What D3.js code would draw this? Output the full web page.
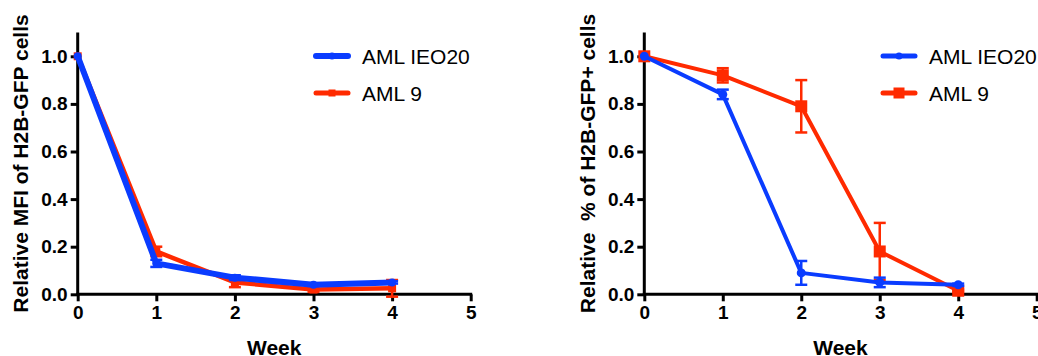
<!DOCTYPE html>
<html>
<head>
<meta charset="utf-8">
<script src="https://cdn.jsdelivr.net/npm/d3@7"></script>
<style>
  body { margin: 0; background: #fff; }
  svg { display: block; font-family: "Liberation Sans", Arial, Helvetica, sans-serif; }
</style>
</head>
<body>
<div id="chart"></div>
<script>
const weeks = [0, 1, 2, 3, 4];
const xTicks = [0, 1, 2, 3, 4, 5];
const yTicks = [0, 0.2, 0.4, 0.6, 0.8, 1.0];
const seriesNames = ["AML IEO20", "AML 9"];

// left panel: relative MFI
const mfiIEO20 = [1.0, 0.13, 0.07, 0.04, 0.05];
const mfiIEO20Err = [0, 0.015, 0.01, 0.005, 0.005];
const mfiAML9 = [1.0, 0.18, 0.05, 0.02, 0.025];
const mfiAML9Err = [0, 0.02, 0.02, 0.01, 0.035];

// right panel: relative % of GFP+ cells
const pctIEO20 = [1.0, 0.84, 0.09, 0.05, 0.04];
const pctIEO20Err = [0, 0.02, 0.05, 0.02, 0.005];
const pctAML9 = [1.0, 0.92, 0.79, 0.18, 0.015];
const pctAML9Err = [0, 0.03, 0.11, 0.12, 0.005];

const BLUE = "#0a3cff";
const RED = "#ff2a00";

const svg = d3.select("#chart").append("svg")
  .attr("width", 1038)
  .attr("height", 356);

function panel(opt) {
  const x = d3.scaleLinear().domain([0, 5]).range([opt.x0, opt.x1]);
  const y = d3.scaleLinear().domain([0, 1.1]).range([294.3, 32.5]);
  const g = svg.append("g");

  // axes
  const xa = g.append("g")
    .attr("transform", `translate(0,${y(0)})`)
    .call(d3.axisBottom(x).tickValues(xTicks).tickFormat(d3.format("d")).tickSize(7).tickSizeOuter(0).tickPadding(4));
  const ya = g.append("g")
    .attr("transform", `translate(${x(0)},0)`)
    .call(d3.axisLeft(y).tickValues(yTicks).tickFormat(d3.format(".1f")).tickSize(7).tickSizeOuter(0).tickPadding(3));
  [xa, ya].forEach(a => {
    a.select(".domain").attr("stroke", "#000").attr("stroke-width", 3);
    a.selectAll(".tick line").attr("stroke", "#000").attr("stroke-width", 3);
    a.selectAll(".tick text").attr("fill", "#000")
      .style("font-size", "19px").style("font-weight", "bold");
  });
  ya.select(".domain").attr("d", `M0,${y(0) + 1.5}V${y(1.1)}`);
  xa.select(".domain").attr("d", `M${x(0) - 1.5},0H${x(5) + 1.5}`);

  // axis titles
  g.append("text")
    .attr("x", (x(0) + x(5)) / 2).attr("y", 355)
    .attr("text-anchor", "middle")
    .style("font-size", "21px").style("font-weight", "bold")
    .text("Week");
  g.append("text")
    .attr("transform", `translate(${opt.labelX},163.5) rotate(-90)`)
    .attr("text-anchor", "middle")
    .style("font-size", "21px").style("font-weight", "bold")
    .style("white-space", "pre")
    .text(opt.yLabel);

  const line = d3.line().x((d, i) => x(weeks[i])).y(d => y(d));

  opt.series.forEach(s => {
    const sg = g.append("g");
    // error bars
    s.values.forEach((v, i) => {
      if (!s.err[i]) return;
      const cx = x(weeks[i]);
      const lo = y(v - s.err[i]), hi = y(v + s.err[i]);
      sg.append("line").attr("x1", cx).attr("x2", cx).attr("y1", lo).attr("y2", hi)
        .attr("stroke", s.color).attr("stroke-width", 2.5);
      [lo, hi].forEach(yy => sg.append("line")
        .attr("x1", cx - 6).attr("x2", cx + 6).attr("y1", yy).attr("y2", yy)
        .attr("stroke", s.color).attr("stroke-width", 2.5));
    });
    sg.append("path").attr("d", line(s.values))
      .attr("fill", "none").attr("stroke", s.color).attr("stroke-width", s.lw)
      .attr("stroke-linejoin", "round");
    s.values.forEach((v, i) => {
      const cx = x(weeks[i]), cy = y(v);
      if (s.marker === "circle") {
        sg.append("circle").attr("cx", cx).attr("cy", cy).attr("r", s.size / 2).attr("fill", s.color);
      } else {
        sg.append("rect").attr("x", cx - s.size / 2).attr("y", cy - s.size / 2)
          .attr("width", s.size).attr("height", s.size).attr("fill", s.color);
      }
    });
  });

  // legend
  const legendOrder = [opt.series[1], opt.series[0]];
  legendOrder.forEach((s, k) => {
    const ly = 56 + k * 37;
    const lg = g.append("g");
    lg.append("line").attr("x1", opt.legX).attr("x2", opt.legX + 32)
      .attr("y1", ly).attr("y2", ly)
      .attr("stroke", s.color).attr("stroke-width", s.legLw).attr("stroke-linecap", "round");
    const mx = opt.legX + 16;
    if (s.marker === "circle") {
      lg.append("circle").attr("cx", mx).attr("cy", ly).attr("r", s.legSize / 2).attr("fill", s.color);
    } else {
      lg.append("rect").attr("x", mx - s.legSize / 2).attr("y", ly - s.legSize / 2)
        .attr("width", s.legSize).attr("height", s.legSize).attr("fill", s.color);
    }
    lg.append("text").attr("x", opt.legX + 46).attr("y", ly + 7.5)
      .style("font-size", "21px")
      .text(s.name);
  });
}

panel({
  x0: 77.7, x1: 470.7, labelX: 28, legX: 316,
  yLabel: "Relative MFI of H2B-GFP cells",
  series: [
    { name: seriesNames[1], values: mfiAML9, err: mfiAML9Err, color: RED, lw: 4.5, marker: "square", size: 8, legLw: 5, legSize: 7 },
    { name: seriesNames[0], values: mfiIEO20, err: mfiIEO20Err, color: BLUE, lw: 6, marker: "circle", size: 8, legLw: 6, legSize: 7 }
  ]
});

panel({
  x0: 644.3, x1: 1036.7, labelX: 595, legX: 883,
  yLabel: "Relative  % of H2B-GFP+ cells",
  series: [
    { name: seriesNames[1], values: pctAML9, err: pctAML9Err, color: RED, lw: 4, marker: "square", size: 12, legLw: 5, legSize: 11 },
    { name: seriesNames[0], values: pctIEO20, err: pctIEO20Err, color: BLUE, lw: 4, marker: "circle", size: 9, legLw: 5, legSize: 7 }
  ]
});
</script>
</body>
</html>
